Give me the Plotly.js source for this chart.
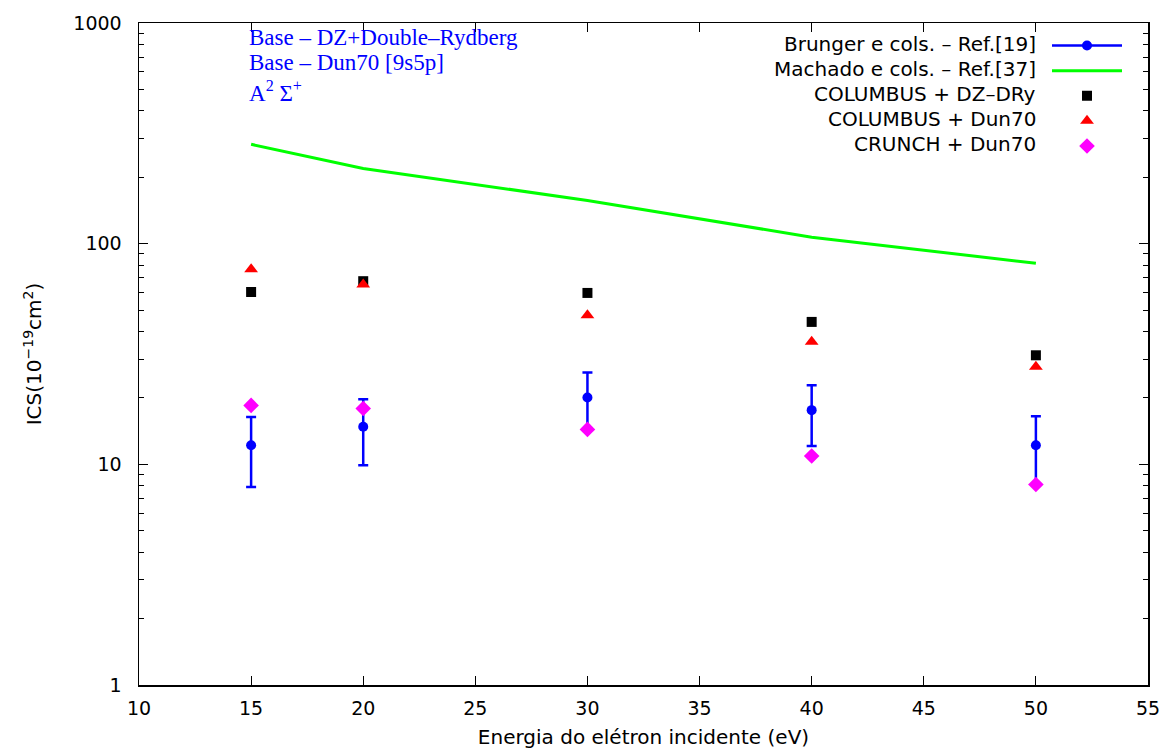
<!DOCTYPE html>
<html>
<head>
<meta charset="utf-8">
<script src="https://cdn.plot.ly/plotly-3.0.1.min.js"></script>
<style>html,body{margin:0;padding:0;background:#fff;}#chart{width:1166px;height:749px;}</style>
</head>
<body>
<div id="chart"></div>
<script>
// Energies (eV)
const energies = [15, 20, 30, 40, 50];
// Brunger e cols. – Ref.[19]
const brungerY = [12.2, 14.8, 20.1, 17.6, 12.2];
const brungerHi = [16.4, 19.7, 26.1, 22.8, 16.5];
const brungerLo = [7.9, 9.9, 14.3, 12.1, 8.1];
// Machado e cols. – Ref.[37]
const machadoY = [282, 219, 157, 107, 81.5];
// COLUMBUS + DZ-DRy
const columbusDZ = [60.4, 67.6, 59.8, 44.2, 31.2];
// COLUMBUS + Dun70
const columbusDun = [76.6, 65.3, 47.4, 35.9, 27.7];
// CRUNCH + Dun70
const crunchDun = [18.5, 17.9, 14.4, 10.9, 8.1];

const legendNames = [
  "Brunger e cols. \u2013 Ref.[19]",
  "Machado e cols. \u2013 Ref.[37]",
  "COLUMBUS + DZ\u2013DRy",
  "COLUMBUS + Dun70",
  "CRUNCH + Dun70"
];
const xTicks = [10, 15, 20, 25, 30, 35, 40, 45, 50, 55];
const yTicks = [1, 10, 100, 1000];
const yMinor = [];
[1, 10, 100].forEach(d => { for (let k = 2; k <= 9; k++) yMinor.push(d * k); });

// interleave nulls so the Brunger trace shows a line in the legend but none in the plot
const bx = [], by = [], bp = [], bm = [];
energies.forEach((e, i) => {
  bx.push(e); by.push(brungerY[i]);
  bp.push(brungerHi[i] - brungerY[i]); bm.push(brungerY[i] - brungerLo[i]);
  if (i < energies.length - 1) { bx.push(e); by.push(null); bp.push(0); bm.push(0); }
});

const traces = [
  {
    x: bx, y: by, type: 'scatter', mode: 'lines+markers', name: '',
    line: {color: '#0000ff', width: 2.5}, connectgaps: false,
    marker: {symbol: 'circle', size: 10, color: '#0000ff'},
    error_y: {type: 'data', symmetric: false, array: bp, arrayminus: bm,
              color: '#0000ff', thickness: 2.5, width: 5}
  },
  {
    x: energies, y: machadoY, type: 'scatter', mode: 'lines', name: ' ',
    line: {color: '#00ff00', width: 3}
  },
  {
    x: energies, y: columbusDZ, type: 'scatter', mode: 'markers', name: '  ',
    marker: {symbol: 'square', size: 10, color: '#000000'}
  },
  {
    x: energies, y: columbusDun, type: 'scatter', mode: 'markers', name: '   ',
    marker: {symbol: 'triangle-up', size: 12, color: '#ff0000'}
  },
  {
    x: energies, y: crunchDun, type: 'scatter', mode: 'markers', name: '    ',
    marker: {symbol: 'diamond', size: 12, color: '#ff00ff'}
  }
];

const L = 139, R = 1148, T = 23, B = 685;
const px = v => (v - L) / (R - L);
const py = v => (B - v) / (B - T);

const sansFont = 'DejaVu Sans, Verdana, sans-serif';
const annotations = [];
const rowY = [44, 69, 94, 119, 144];
legendNames.forEach((n, i) => {
  annotations.push({
    text: n, xref: 'paper', yref: 'paper', x: px(1038), y: py(rowY[i]),
    xanchor: 'right', yanchor: 'middle', showarrow: false,
    font: {family: sansFont, size: 20, color: '#000'}
  });
});
const infoLines = ["Base \u2013 DZ+Double\u2013Rydberg", "Base \u2013 Dun70 [9s5p]", "A<sup>2</sup> \u03A3<sup>+</sup>"];
const infoY = [37, 62, 91];
infoLines.forEach((t, i) => {
  annotations.push({
    text: t, xref: 'paper', yref: 'paper', x: px(247), y: py(infoY[i]),
    xanchor: 'left', yanchor: 'middle', showarrow: false,
    font: {family: 'Liberation Serif, Times New Roman, serif', size: 23, color: '#0000ff'}
  });
});

const tickFont = {family: sansFont, size: 19, color: '#000'};

const layout = {
  width: 1166, height: 749,
  margin: {l: L, r: 1166 - R, t: T, b: 749 - B},
  paper_bgcolor: '#fff', plot_bgcolor: '#fff',
  showlegend: true,
  legend: {
    x: px(1150), y: py(28), xanchor: 'right', yanchor: 'top',
    bgcolor: 'rgba(0,0,0,0)', borderwidth: 0,
    font: {size: 17}, itemwidth: 70, traceorder: 'normal'
  },
  xaxis: {
    range: [10, 55], tickvals: xTicks, ticktext: xTicks.map(String),
    ticks: 'inside', ticklen: 9, tickwidth: 1, tickcolor: '#000',
    showline: true, linecolor: '#000', linewidth: 1.5, mirror: 'ticks',
    showgrid: false, zeroline: false, tickfont: tickFont, ticklabelstandoff: 6,
    title: {text: 'Energia do el\u00e9tron incidente (eV)', standoff: 12,
            font: {family: sansFont, size: 20, color: '#000'}}
  },
  yaxis: {
    type: 'log', range: [0, 3], tickvals: yTicks, ticktext: yTicks.map(String),
    ticks: 'inside', ticklen: 9, tickwidth: 1, tickcolor: '#000',
    minor: {tickmode: 'array', tickvals: yMinor, ticks: 'inside', ticklen: 5, tickcolor: '#000', tickwidth: 1, showgrid: false},
    showline: true, linecolor: '#000', linewidth: 1.5, mirror: 'ticks',
    showgrid: false, zeroline: false, tickfont: tickFont, ticklabelstandoff: 12,
    title: {text: 'ICS(10<sup>\u221219</sup>cm<sup>2</sup>)', standoff: 26,
            font: {family: sansFont, size: 20, color: '#000'}}
  },
  annotations: annotations
};

Plotly.newPlot('chart', traces, layout, {displayModeBar: false, staticPlot: true});
</script>
</body>
</html>
